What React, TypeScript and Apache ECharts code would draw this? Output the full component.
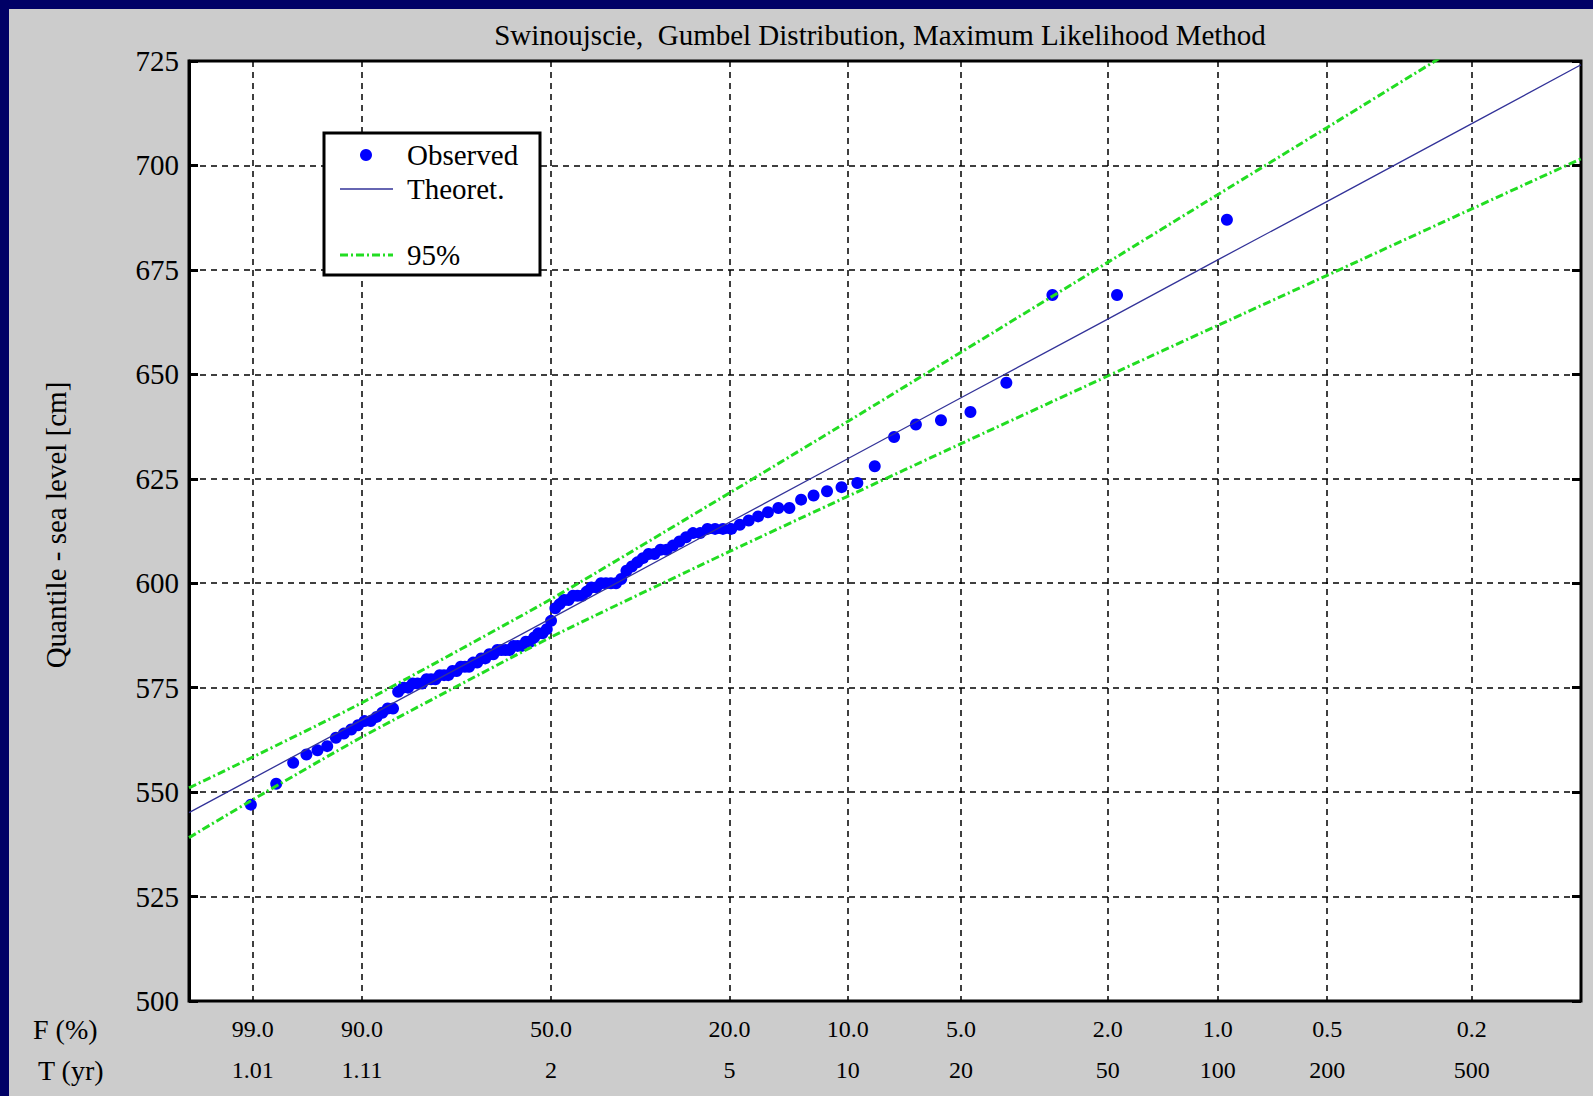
import React, { useEffect, useRef } from 'react';
import * as echarts from 'echarts';

const TITLE = 'Swinoujscie,  Gumbel Distribution, Maximum Likelihood Method';
const Y_TITLE = 'Quantile - sea level [cm]';
const LEGEND_LABELS = ['Observed', 'Theoret.', '95%'];
const ROW_LABELS = ['F (%)', 'T (yr)'];

// exceedance probability (%) at the left and right edges of the plot
const AXIS_F_RANGE = [99.9, 0.1];
const TICK_F = [99.0, 90.0, 50.0, 20.0, 10.0, 5.0, 2.0, 1.0, 0.5, 0.2];
const TICK_F_LABELS = ['99.0', '90.0', '50.0', '20.0', '10.0', '5.0', '2.0', '1.0', '0.5', '0.2'];
const TICK_T_LABELS = ['1.01', '1.11', '2', '5', '10', '20', '50', '100', '200', '500'];
const Y_MIN = 500;
const Y_MAX = 725;
const Y_STEP = 25;

// observed annual maxima (cm), ascending
const OBSERVED = [
  547, 552, 557, 559, 560, 561, 563, 564, 565, 566,
  567, 567, 568, 569, 570, 570, 574, 575, 575, 576,
  576, 576, 577, 577, 577, 578, 578, 578, 579, 579,
  580, 580, 580, 581, 581, 582, 582, 583, 583, 584,
  584, 584, 584, 585, 585, 585, 586, 586, 587, 588,
  588, 589, 591, 594, 595, 596, 596, 597, 597, 597,
  598, 599, 599, 600, 600, 600, 600, 601, 603, 604,
  605, 606, 607, 607, 608, 608, 609, 610, 611, 612,
  612, 613, 613, 613, 613, 614, 615, 616, 617, 618,
  618, 620, 621, 622, 623, 624, 628, 635, 638, 639,
  641, 648, 669, 669, 687,
];

// curves read at these exceedance probabilities (%)
const CURVE_F = [99.9, 99, 90, 50, 20, 10, 5, 2, 1, 0.5, 0.2, 0.1];
const THEORETICAL = [545.1, 553.3, 567.3, 591.6, 614.6, 629.8, 644.4, 663.2, 677.4, 691.4, 710.0, 724.1];
const UPPER_95 = [551.0, 558.4, 571.4, 596.2, 621.6, 638.7, 655.3, 676.8, 693.0, 709.1, 730.4, 746.5];
const LOWER_95 = [539.1, 548.2, 563.2, 587.1, 607.6, 620.8, 633.4, 649.6, 661.7, 673.7, 689.6, 701.6];

// Gumbel reduced variate for an exceedance probability in %
const gv = (exceedPct: number) => -Math.log(-Math.log(1 - exceedPct / 100));
// Weibull plotting position for ascending rank k (1-based) of n
const plotX = (k: number, n: number) => -Math.log(-Math.log(k / (n + 1)));

const FONT = '"Liberation Serif", "Times New Roman", serif';
const NAVY = '#000066';
const GREEN = '#22dd22';
const BLUE_LINE = '#333399';
const DASH_DOT = [8, 3, 2, 3];

function buildOption() {
  const tickX = TICK_F.map(gv);
  const n = OBSERVED.length;
  const obs = OBSERVED.map((v, i) => [plotX(i + 1, n), v]);
  const curve = (vals: number[]) => CURVE_F.map((f, i) => [gv(f), vals[i]]);

  const labelFormatter = (value: number) => {
    let idx = 0;
    let best = Infinity;
    tickX.forEach((t, i) => {
      const d = Math.abs(t - value);
      if (d < best) { best = d; idx = i; }
    });
    return `{f|${TICK_F_LABELS[idx]}}\n{t|${TICK_T_LABELS[idx]}}`;
  };

  const textStyle = (text: string, size: number, align = 'left') => ({
    text,
    fill: '#000',
    fontSize: size,
    fontFamily: FONT,
    textAlign: align,
    textVerticalAlign: 'middle',
  });

  return {
    animation: false,
    backgroundColor: '#cccccc',
    grid: {
      left: 189,
      top: 61,
      right: 12,
      bottom: 95,
      show: true,
      backgroundColor: '#ffffff',
      borderColor: '#000',
      borderWidth: 3,
    },
    xAxis: {
      type: 'value',
      min: gv(AXIS_F_RANGE[0]),
      max: gv(AXIS_F_RANGE[1]),
      axisLine: { show: false, onZero: false },
      axisTick: { show: false, customValues: tickX },
      axisLabel: {
        customValues: tickX,
        formatter: labelFormatter,
        margin: 7,
        rich: {
          f: { fontSize: 24, fontFamily: FONT, color: '#000', lineHeight: 41 },
          t: { fontSize: 24, fontFamily: FONT, color: '#000', lineHeight: 41 },
        },
      },
      splitLine: { show: true, lineStyle: { color: '#000', type: [6, 5], width: 1.5 } },
    },
    yAxis: [
      {
        type: 'value',
        position: 'left',
        min: Y_MIN,
        max: Y_MAX,
        interval: Y_STEP,
        axisLine: { show: true, onZero: false, lineStyle: { color: '#000', width: 3 } },
        axisTick: { show: true, inside: true, length: 9, lineStyle: { color: '#000', width: 3 } },
        axisLabel: { fontSize: 29, fontFamily: FONT, color: '#000', margin: 10 },
        splitLine: { show: true, lineStyle: { color: '#000', type: [6, 5], width: 1.5 } },
      },
      {
        type: 'value',
        position: 'right',
        min: Y_MIN,
        max: Y_MAX,
        interval: Y_STEP,
        axisLine: { show: false, onZero: false },
        axisTick: { show: true, inside: true, length: 9, lineStyle: { color: '#000', width: 3 } },
        axisLabel: { show: false },
        splitLine: { show: false },
      },
    ],
    series: [
      {
        name: LEGEND_LABELS[0],
        type: 'scatter',
        data: obs,
        symbol: 'circle',
        symbolSize: 12,
        itemStyle: { color: '#0000ff', opacity: 1 },
        z: 2,
      },
      {
        name: LEGEND_LABELS[2] + ' upper',
        type: 'line',
        data: curve(UPPER_95),
        showSymbol: false,
        smooth: 0.2,
        clip: true,
        lineStyle: { color: GREEN, width: 3, type: DASH_DOT },
        z: 3,
      },
      {
        name: LEGEND_LABELS[2] + ' lower',
        type: 'line',
        data: curve(LOWER_95),
        showSymbol: false,
        smooth: 0.2,
        clip: true,
        lineStyle: { color: GREEN, width: 3, type: DASH_DOT },
        z: 3,
      },
      {
        name: LEGEND_LABELS[1],
        type: 'line',
        data: curve(THEORETICAL),
        showSymbol: false,
        clip: true,
        lineStyle: { color: BLUE_LINE, width: 1.3 },
        z: 4,
      },
    ],
    graphic: [
      { type: 'rect', z: 100, shape: { x: 0, y: 0, width: 1593, height: 9 }, style: { fill: NAVY } },
      { type: 'rect', z: 100, shape: { x: 0, y: 0, width: 9, height: 1096 }, style: { fill: NAVY } },
      { type: 'text', z: 100, x: 880, y: 35, style: textStyle(TITLE, 29, 'center') },
      {
        type: 'text', z: 100, x: 56, y: 525, rotation: Math.PI / 2,
        style: textStyle(Y_TITLE, 29, 'center'),
      },
      { type: 'text', z: 100, x: 33, y: 1029, style: textStyle(ROW_LABELS[0], 28) },
      { type: 'text', z: 100, x: 38, y: 1070, style: textStyle(ROW_LABELS[1], 28) },
      // legend box
      {
        type: 'rect', z: 100,
        shape: { x: 324, y: 133, width: 216, height: 142 },
        style: { fill: '#ffffff', stroke: '#000', lineWidth: 3 },
      },
      { type: 'circle', z: 101, shape: { cx: 366, cy: 155, r: 6 }, style: { fill: '#0000ff' } },
      { type: 'text', z: 101, x: 407, y: 155, style: textStyle(LEGEND_LABELS[0], 29) },
      {
        type: 'line', z: 101, shape: { x1: 340, y1: 189, x2: 393, y2: 189 },
        style: { stroke: BLUE_LINE, lineWidth: 1.5 },
      },
      { type: 'text', z: 101, x: 407, y: 189, style: textStyle(LEGEND_LABELS[1], 29) },
      {
        type: 'line', z: 101, shape: { x1: 340, y1: 255, x2: 393, y2: 255 },
        style: { stroke: GREEN, lineWidth: 3, lineDash: DASH_DOT },
      },
      { type: 'text', z: 101, x: 407, y: 255, style: textStyle(LEGEND_LABELS[2], 29) },
    ],
  };
}

export default function App() {
  const ref = useRef<HTMLDivElement>(null);
  useEffect(() => {
    if (!ref.current) return;
    const chart = echarts.init(ref.current, null, { renderer: 'svg' });
    chart.setOption(buildOption() as any);
    return () => chart.dispose();
  }, []);
  return (
    <div
      ref={ref}
      style={{ position: 'fixed', left: 0, top: 0, width: 1593, height: 1096 }}
    />
  );
}
